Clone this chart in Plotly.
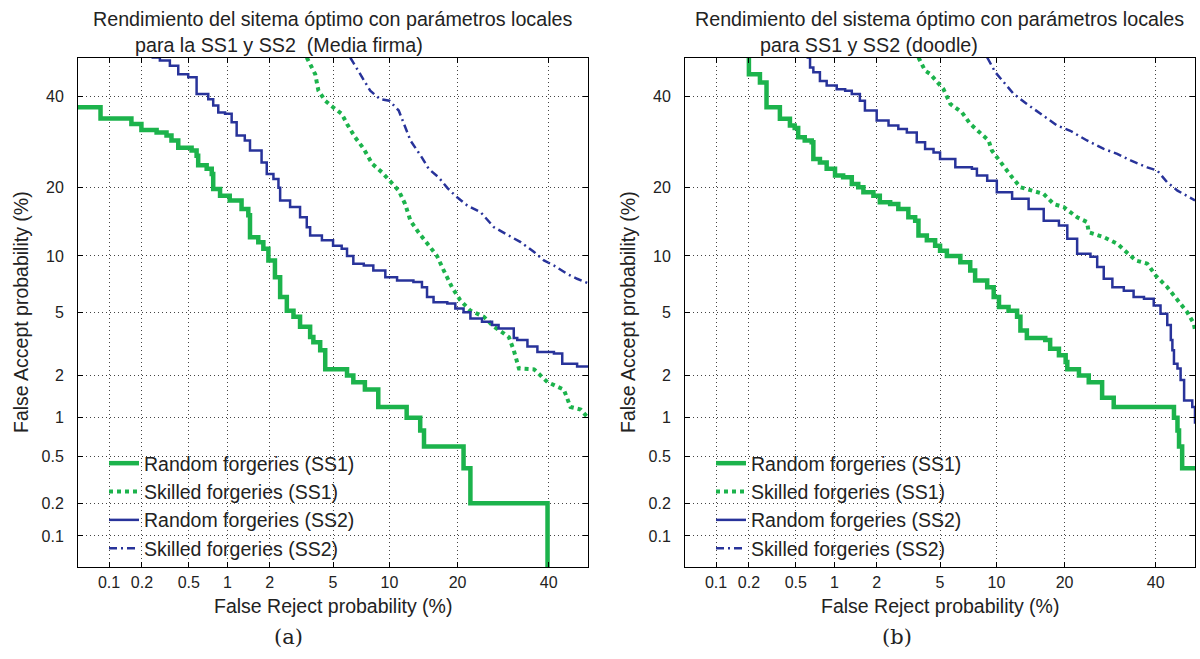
from statistics import NormalDist
import plotly.graph_objects as go

# ---------------- data (percent) ----------------
tick_pct = [0.1, 0.2, 0.5, 1, 2, 5, 10, 20, 40]
tick_txt = ["0.1", "0.2", "0.5", "1", "2", "5", "10", "20", "40"]
axis_min_pct = 0.05
axis_max_pct = 50.0

series_names = ["Random forgeries (SS1)", "Skilled forgeries (SS1)",
                "Random forgeries (SS2)", "Skilled forgeries (SS2)"]

# panel (a): Media firma
a_rand_ss1_frr = [0.05, 0.083, 0.161, 0.198, 0.269, 0.327, 0.36, 0.41, 0.527, 0.578,
                  0.595, 0.694, 0.76, 0.78, 0.88, 1.04, 1.27, 1.42, 1.46, 1.67,
                  1.81, 1.96, 2.17, 2.35, 2.6, 2.87, 3.16, 3.65, 3.82, 4.2,
                  4.5, 6.0, 6.5, 7.5, 8.8, 12.1, 13.95, 14.5, 21.1, 22.4,
                  39.7, 39.7]
a_rand_ss1_far = [37.4, 34.7, 33.4, 32.0, 31.4, 30.7, 29.6, 28.0, 27.4, 26.3,
                  24.3, 23.6, 22.6, 19.8, 18.6, 17.8, 16.4, 15.4, 12.3, 11.65,
                  10.85, 9.5, 7.8, 6.1, 5.1, 4.7, 4.1, 3.55, 3.3, 2.93,
                  2.2, 2.0, 1.8, 1.6, 1.2, 1.0, 0.8, 0.6, 0.4, 0.2,
                  0.2, 0.01]

a_skil_ss1_frr = [3.48, 3.92, 4.1, 4.5, 5.0, 5.6, 6.0, 6.65, 7.4, 8.2,
                  9.2, 10.0, 11.1, 11.9, 12.6, 13.7, 14.95, 16.5, 17.6, 19.0,
                  20.5, 22.4, 25.1, 27.2, 29.4, 30.5, 31.6, 32.8, 36.4, 39.7,
                  43.8, 45.5, 48.1, 50.0]
a_skil_ss1_far = [50.0, 45.7, 41.5, 39.0, 37.4, 35.8, 33.4, 30.3, 27.75, 24.6,
                  22.9, 21.3, 19.5, 17.2, 14.6, 12.95, 11.45, 10.0, 8.45, 6.9,
                  5.84, 5.1, 4.7, 4.1, 3.73, 3.54, 2.93, 2.23, 2.2, 1.8,
                  1.6, 1.2, 1.15, 1.0]

a_rand_ss2_frr = [0.243, 0.287, 0.349, 0.41, 0.495, 0.578, 0.578, 0.714, 0.78, 0.853,
                  0.96, 1.075, 1.17, 1.34, 1.46, 1.76, 1.91, 2.12, 2.29, 2.35,
                  2.73, 3.16, 3.48, 3.65, 4.3, 5.0, 5.6, 6.0, 6.5, 7.4,
                  8.3, 9.55, 10.9, 13.0, 14.2, 14.95, 15.95, 18.2, 19.6, 21.1,
                  22.4, 24.7, 26.8, 28.2, 30.85, 31.6, 32.4, 34.8, 37.2, 41.3,
                  43.4, 47.2, 50.0]
a_rand_ss2_far = [50.0, 49.2, 47.9, 45.7, 44.9, 43.2, 40.7, 39.4, 37.8, 36.15,
                  35.8, 33.8, 30.7, 29.6, 27.4, 24.9, 22.6, 21.65, 20.0, 17.8,
                  16.7, 15.1, 13.65, 12.5, 11.9, 11.2, 10.85, 10.0, 9.15, 8.96,
                  8.45, 7.8, 7.5, 7.35, 6.9, 6.1, 5.7, 5.6, 5.25, 5.0,
                  4.6, 4.4, 4.2, 4.0, 4.0, 3.5, 3.4, 3.1, 2.86, 2.8,
                  2.4, 2.3, 2.28]

a_skil_ss2_frr = [6.25, 7.23, 8.0, 9.0, 10.0, 11.1, 11.9, 12.6, 14.2, 15.2,
                  16.75, 18.2, 19.6, 21.8, 24.4, 27.2, 30.5, 33.2, 36.4, 38.8,
                  41.3, 44.7, 47.2, 50.0]
a_skil_ss2_far = [50.0, 44.9, 41.5, 39.4, 39.0, 36.6, 32.6, 29.6, 25.9, 23.6,
                  21.95, 20.0, 18.6, 16.95, 15.9, 13.65, 12.5, 11.65, 10.45, 9.5,
                  8.96, 8.1, 7.65, 7.25]

# panel (b): doodle
b_rand_ss1_frr = [0.2, 0.2, 0.25, 0.285, 0.37, 0.448, 0.49, 0.523, 0.59, 0.67,
                  0.69, 0.776, 0.874, 1.01, 1.16, 1.34, 1.49, 1.62, 1.9, 2.1,
                  2.46, 2.78, 3.22, 3.55, 3.72, 4.18, 4.68, 5.0, 5.47, 6.5,
                  7.35, 7.8, 9.0, 9.7, 10.3, 11.45, 12.55, 13.0, 13.9, 16.7,
                  17.5, 19.0, 20.2, 20.5, 22.7, 24.65, 27.45, 30.0, 44.6, 45.5,
                  45.9, 46.7, 50.0]
b_rand_ss1_far = [50.0, 45.7, 43.6, 37.4, 34.6, 33.0, 32.45, 30.3, 29.6, 29.2,
                  25.6, 24.9, 23.6, 22.3, 21.95, 20.7, 20.1, 19.2, 18.6, 17.5,
                  17.2, 16.4, 15.1, 14.6, 12.5, 11.9, 11.2, 10.6, 10.0, 9.3,
                  8.45, 7.5, 6.9, 6.1, 5.35, 5.1, 4.7, 3.9, 3.5, 3.4,
                  3.0, 2.72, 2.46, 2.2, 2.0, 1.8, 1.4, 1.2, 1.0, 0.8,
                  0.6, 0.4, 0.4]

b_skil_ss1_frr = [3.72, 4.08, 4.37, 5.23, 5.72, 6.63, 7.35, 8.3, 9.15, 9.5,
                  10.3, 11.05, 11.9, 13.0, 14.9, 16.45, 18.1, 19.85, 22.35, 24.3,
                  24.65, 27.8, 30.8, 33.5, 35.1, 37.9, 40.0, 42.9, 45.5, 48.0,
                  49.7, 50.0]
b_skil_ss1_far = [50.0, 46.6, 45.8, 41.9, 38.2, 36.15, 33.4, 31.4, 29.6, 27.4,
                  25.3, 23.6, 21.95, 20.1, 19.5, 18.9, 17.2, 16.7, 15.1, 14.4,
                  12.95, 12.3, 11.45, 10.25, 9.5, 9.15, 7.95, 6.9, 5.84, 5.0,
                  4.28, 3.9]

b_rand_ss2_frr = [0.61, 0.65, 0.69, 0.776, 0.874, 1.04, 1.2, 1.34, 1.53, 1.66,
                  2.0, 2.4, 2.78, 3.15, 3.63, 4.08, 4.58, 5.0, 6.1, 7.5,
                  7.97, 9.0, 10.05, 11.9, 14.15, 16.45, 19.0, 20.5, 22.35, 25.0,
                  26.4, 27.8, 29.7, 32.3, 34.6, 37.1, 39.5, 41.2, 42.9, 43.8,
                  44.2, 44.6, 45.5, 46.3, 47.2, 49.3, 50.0]
b_rand_ss2_far = [50.0, 47.4, 46.2, 44.0, 42.8, 41.9, 41.5, 40.7, 39.0, 36.6,
                  34.2, 33.0, 32.2, 31.4, 29.2, 27.75, 27.0, 25.6, 23.9, 23.6,
                  22.3, 21.3, 19.2, 18.1, 16.4, 14.6, 13.9, 12.1, 10.25, 9.9,
                  8.8, 7.65, 6.9, 6.6, 6.1, 5.97, 5.47, 4.9, 4.2, 3.4,
                  2.93, 2.4, 2.23, 1.86, 1.34, 1.2, 0.9]

b_skil_ss2_frr = [9.0, 9.88, 11.05, 12.1, 13.9, 16.45, 18.7, 21.05, 24.3, 27.8,
                  30.8, 33.9, 37.9, 40.4, 42.9, 45.5, 50.0]
b_skil_ss2_far = [50.0, 46.2, 43.2, 40.7, 38.2, 35.35, 33.0, 31.8, 29.6, 27.75,
                  26.7, 25.3, 23.9, 23.25, 21.0, 19.5, 17.8]

# ---------------- helpers ----------------
ND = NormalDist()


def dev(pcts):
    """Percent -> standard normal deviate (DET scale)."""
    return [ND.inv_cdf(p / 100.0) for p in pcts]


GREEN = "#1cb34c"
BLUE = "#28339a"
TXT = "#222222"
SANS = "Liberation Sans, Arial, sans-serif"

styles = [
    dict(color=GREEN, width=4.5, dash="solid", shape="hv"),
    dict(color=GREEN, width=4, dash="dot", shape="linear"),
    dict(color=BLUE, width=2.5, dash="solid", shape="hv"),
    dict(color=BLUE, width=2.5, dash="8px,4px,2px,4px", shape="linear"),
]

panels = [
    ("x", "y", "legend", [(a_rand_ss1_frr, a_rand_ss1_far), (a_skil_ss1_frr, a_skil_ss1_far),
                          (a_rand_ss2_frr, a_rand_ss2_far), (a_skil_ss2_frr, a_skil_ss2_far)]),
    ("x2", "y2", "legend2", [(b_rand_ss1_frr, b_rand_ss1_far), (b_skil_ss1_frr, b_skil_ss1_far),
                             (b_rand_ss2_frr, b_rand_ss2_far), (b_skil_ss2_frr, b_skil_ss2_far)]),
]

fig = go.Figure()
for xa, ya, leg, curves in panels:
    for name, st, (frr, far) in zip(series_names, styles, curves):
        fig.add_trace(go.Scatter(
            x=dev(frr), y=dev(far), mode="lines", name=name, legend=leg,
            xaxis=xa, yaxis=ya,
            line=dict(color=st["color"], width=st["width"], dash=st["dash"], shape=st["shape"]),
            hoverinfo="skip",
        ))

W, H = 1200, 659
rng = [ND.inv_cdf(axis_min_pct / 100.0), ND.inv_cdf(axis_max_pct / 100.0)]
ydom = [1 - 567 / H, 1 - 57.5 / H]


def axis(domain, anchor, standoff):
    return dict(
        domain=domain, anchor=anchor, range=rng, tickmode="array",
        tickvals=dev(tick_pct), ticktext=tick_txt, ticks="inside", ticklen=5,
        tickcolor="black", showline=True, linecolor="black", linewidth=1,
        mirror="ticks", showgrid=True, gridcolor="#444444", griddash="1px,3px",
        gridwidth=1, zeroline=False, ticklabelstandoff=standoff,
        tickfont=dict(family=SANS, size=16, color=TXT), fixedrange=True,
    )


legend_common = dict(
    xanchor="left", yanchor="top", bgcolor="rgba(0,0,0,0)", borderwidth=0,
    font=dict(family=SANS, size=19.5, color=TXT), tracegroupgap=0,
)

fig.update_layout(
    width=W, height=H, margin=dict(l=0, r=0, t=0, b=0),
    paper_bgcolor="white", plot_bgcolor="white",
    xaxis=axis([78 / W, 588 / W], "y", 1),
    yaxis=axis(ydom, "x", 10),
    xaxis2=axis([685 / W, 1195 / W], "y2", 1),
    yaxis2=axis(ydom, "x2", 10),
    legend=dict(x=104 / W, y=1 - 444 / H, **legend_common),
    legend2=dict(x=711 / W, y=1 - 444 / H, **legend_common),
    showlegend=True,
)


def note(text, x, y, size=19.5, xanchor="center", angle=0, family=SANS):
    fig.add_annotation(text=text, x=x / W, y=1 - y / H, xref="paper", yref="paper",
                       xanchor=xanchor, yanchor="middle", showarrow=False, textangle=angle,
                       font=dict(family=family, size=size, color=TXT))


# titles
note("Rendimiento del sitema óptimo con parámetros locales", 332, 19, size=19.7)
note("para la SS1 y SS2\u00a0\u00a0(Media firma)", 132.7, 45, size=19.7, xanchor="left")
note("Rendimiento del sistema óptimo con parámetros locales", 939, 19, size=19.7)
note("para SS1 y SS2 (doodle)", 757.7, 45, size=19.7, xanchor="left")

# axis titles
note("False Reject probability (%)", 333, 606)
note("False Reject probability (%)", 940, 606)
note("False Accept probability (%)", 21, 312, angle=-90)
note("False Accept probability (%)", 628, 312, angle=-90)

# panel labels
note("(a)", 288, 637, size=21, family="DejaVu Serif, Liberation Serif, serif")
note("(b)", 897, 637, size=21, family="DejaVu Serif, Liberation Serif, serif")

fig.write_html("out.html")
